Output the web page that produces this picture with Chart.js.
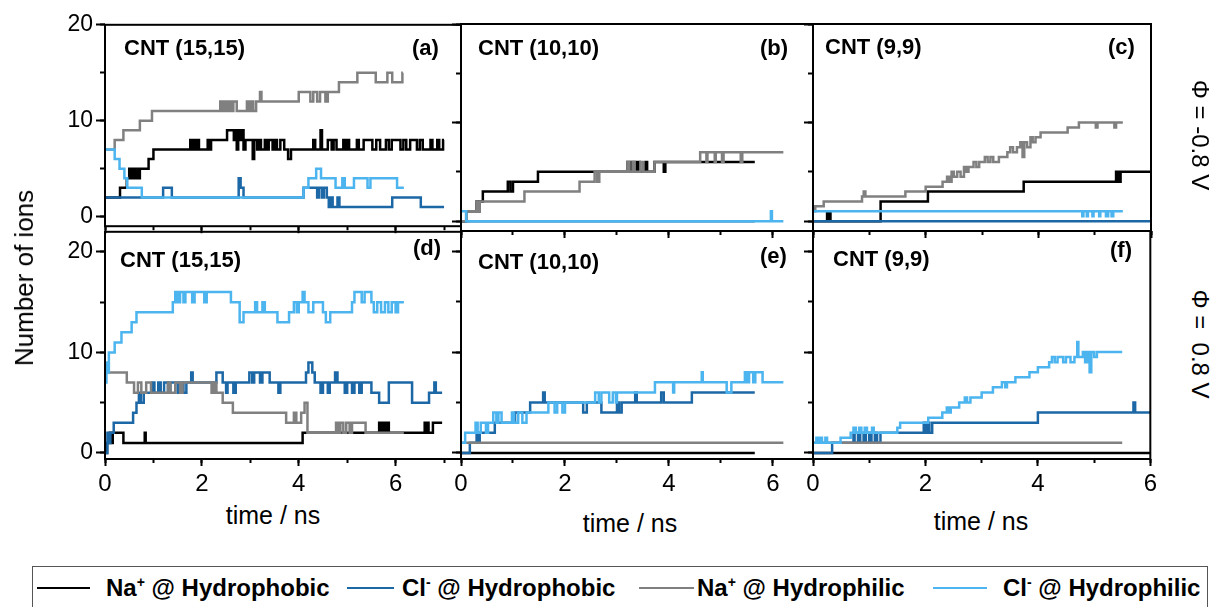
<!DOCTYPE html>
<html>
<head>
<meta charset="utf-8">
<script src="https://cdn.jsdelivr.net/npm/chart.js@4.4.1/dist/chart.umd.min.js"></script>
<style>
  body { margin: 0; background: #fff; }
  #fig { position: relative; width: 1215px; height: 607px; overflow: hidden; background: #fff;
         font-family: "Liberation Sans", Arial, sans-serif; color: #000; }
  #fig canvas { position: absolute; }
  .t { position: absolute; white-space: nowrap; line-height: 1; }
  .tag { font-weight: bold; font-size: 22px; }
  .axt { font-size: 25px; }
  .rot { transform-origin: center center; }
  #legend { position: absolute; left: 32px; top: 566px; width: 1176px; height: 60px;
            border: 1.5px solid #555; box-sizing: border-box; }
  .lg-line { position: absolute; height: 0; border-top: 2.5px solid #000; }
  .lg-txt { position: absolute; font-weight: bold; font-size: 24px; line-height: 1; white-space: nowrap; }
  .lg-txt sup { font-size: 14px; vertical-align: 9px; line-height: 0; }
</style>
</head>
<body>
<div id="fig"></div>
<script>
// ion counts vs time (ns), step data: [time, count]
// panel (a) CNT (15,15), phi = -0.8 V
const naPhobA = [[0,2],[0.31,3],[0.45,4],[0.5,5],[0.53,4],[0.57,5],[0.6,4],[0.63,5],[0.67,4],[0.72,5],[0.9,6],[1.0,7],
  [1.76,8],[1.79,7],[1.82,8],[1.86,7],[1.9,8],[1.94,7],[2.12,8],[2.15,7],[2.19,8],[2.52,9],[2.66,8],[2.69,9],[2.72,7],
  [2.75,9],[2.78,8],[2.82,9],[2.86,7],[2.9,8],[3.05,6],[3.08,8],[3.14,7],[3.18,8],[3.22,7],[3.3,8],[3.34,7],[3.38,8],
  [3.46,7],[3.5,8],[3.55,7],[3.62,8],[3.7,7],[3.78,6],[3.84,7],[4.3,8],[4.34,7],[4.45,9],[4.48,7],[4.6,8],[4.68,7],
  [4.72,8],[4.78,7],[4.92,8],[4.96,7],[5.0,8],[5.04,7],[5.2,8],[5.24,7],[5.34,8],[5.52,7],[5.6,8],[5.68,7],[5.8,8],
  [5.86,7],[5.92,8],[6.1,7],[6.16,8],[6.22,7],[6.3,8],[6.44,7],[6.5,8],[6.56,7],[6.72,8],[6.76,7],[6.86,8],[6.9,7],
  [6.98,8],[7.0,8]];
const clPhobA = [[0,2],[1.2,3],[1.38,2],[2.76,4],[2.8,3],[2.86,2],[4.1,3],[4.38,2],[4.42,3],[4.48,2],[4.52,3],[4.58,2],
  [4.62,1],[4.66,2],[4.7,1],[4.8,2],[4.84,1],[5.93,2],[6.52,1],[7.0,1]];
const naPhilA = [[0,7],[0.2,8],[0.38,9],[0.72,10],[0.97,11],[2.38,12],[2.42,11],[2.46,12],[2.5,11],[2.55,12],[2.6,11],
  [2.65,12],[2.72,11],[2.93,12],[2.97,11],[3.02,12],[3.06,11],[3.12,12],[3.2,13],[3.23,12],[4.0,13],[4.24,12],[4.3,13],
  [4.38,12],[4.44,13],[4.55,12],[4.6,13],[4.83,14],[5.21,15],[5.59,14],[5.83,15],[5.93,14],[6.14,15],[6.15,15]];
const clPhilA = [[0,7],[0.2,6],[0.3,5],[0.4,4],[0.46,3],[0.76,2],[4.1,3],[4.2,4],[4.36,5],[4.46,4],[4.76,3],[4.9,4],
  [4.95,3],[5.14,4],[5.42,3],[5.48,4],[6.03,3],[6.17,3]];

// panel (b) CNT (10,10), phi = -0.8 V
const naPhobB = [[0,0],[0.1,1],[0.3,2],[0.33,1],[0.36,2],[0.42,3],[0.9,4],[0.95,3],[1.0,4],[1.48,5],[3.2,6],[3.26,5],
  [3.3,6],[3.36,5],[3.4,6],[3.44,5],[3.55,6],[3.58,5],[3.72,6],[3.9,5],[3.93,6],[5.65,6]];
const clPhobB = [[0,0],[5.65,0]];
const naPhilB = [[0,0],[0.1,1],[0.3,2],[0.33,1],[0.36,2],[1.22,3],[2.28,4],[2.57,5],[2.62,4],[2.66,5],[3.2,6],[3.24,5],
  [3.3,6],[3.34,5],[3.45,6],[3.5,5],[3.72,6],[4.6,7],[4.72,6],[4.74,7],[4.88,6],[4.9,7],[5.02,6],[5.05,7],[5.38,6],
  [5.41,7],[6.2,7]];
const clPhilB = [[0,1],[0.1,0],[5.96,1],[5.98,0],[6.2,0]];

// panel (c) CNT (9,9), phi = -0.8 V
const naPhobC = [[0,0],[0.25,1],[0.27,0],[0.29,1],[0.31,0],[1.2,2],[2.04,3],[3.74,4],[5.38,5],[5.42,4],[5.46,5],[6.0,5]];
const clPhobC = [[0,0],[6.0,0]];
const naPhilC = [[0,1],[0.04,1.5],[0.19,2],[0.87,2.5],[0.9,3],[0.93,2.5],[1.64,3],[2.0,3.5],[2.3,4],[2.38,4.5],[2.42,4],
  [2.46,5],[2.5,4.5],[2.56,5],[2.62,4.5],[2.68,5.5],[2.72,5],[2.76,5.5],[2.85,6],[2.9,5.5],[2.95,6],[3.05,6.5],[3.1,6],
  [3.15,6.5],[3.2,6],[3.3,6.5],[3.45,7],[3.5,7.5],[3.55,7],[3.62,7.5],[3.68,8],[3.72,6.5],[3.75,8],[3.8,7.5],[3.86,8.5],
  [3.9,8],[3.95,8.5],[4.04,9],[4.52,9.5],[4.72,10],[5.02,9.5],[5.05,10],[5.35,9.5],[5.38,10],[5.5,10]];
const clPhilC = [[0,1],[4.78,0.5],[4.8,1],[4.86,0.5],[4.88,1],[4.96,0.5],[4.98,1],[5.08,0.5],[5.1,1],[5.2,0.5],[5.24,1],
  [5.3,0.5],[5.33,1],[5.5,1]];

// panel (d) CNT (15,15), phi = 0.8 V
const naPhobD = [[0,0],[0.04,1],[0.1,2],[0.12,1],[0.16,2],[0.38,1],[0.82,2],[0.84,1],[4.08,2],[5.66,3],[5.7,2],[5.74,3],
  [5.78,2],[5.82,3],[5.86,2],[6.6,3],[6.63,2],[6.66,3],[6.68,2],[6.77,3],[6.96,3]];
const clPhobD = [[0,0],[0.05,2],[0.08,1],[0.11,2],[0.18,3],[0.58,4],[0.65,5],[0.7,6],[0.74,5],[0.8,6],[0.98,7],[1.02,6],
  [1.1,7],[1.15,6],[1.22,7],[1.3,6],[1.35,7],[1.5,6],[1.55,7],[1.62,6],[1.68,7],[1.78,8],[1.81,7],[2.3,8],[2.43,7],
  [2.5,6],[2.53,7],[2.65,6],[2.7,7],[2.98,8],[3.04,7],[3.08,8],[3.2,7],[3.25,8],[3.4,7],[3.58,6],[3.62,7],[4.15,8],
  [4.2,9],[4.28,8],[4.33,7],[4.45,6],[4.5,7],[4.6,6],[4.64,7],[4.75,8],[4.8,7],[4.95,6],[5.0,7],[5.1,6],[5.15,7],
  [5.25,6],[5.3,7],[5.5,6],[5.66,5],[5.86,7],[6.34,5],[6.69,6],[6.8,7],[6.83,6],[6.96,6]];
const naPhilD = [[0,8],[0.45,7],[0.6,6],[0.68,7],[0.75,6],[0.85,7],[0.95,6],[1.3,7],[1.35,6],[1.45,7],[1.55,6],[1.6,7],
  [2.2,6],[2.25,7],[2.3,6],[2.43,5],[2.64,4],[3.74,3],[3.9,4],[3.95,3],[4.05,4],[4.12,5],[4.18,2],[4.77,3],[4.82,2],
  [4.86,3],[4.92,2],[4.98,3],[5.05,2],[5.1,3],[5.38,2],[6.17,2]];
const clPhilD = [[0,7],[0.03,9],[0.05,8],[0.08,10],[0.2,11],[0.34,12],[0.55,13],[0.65,14],[1.4,15],[1.45,16],[1.5,15],
  [1.55,16],[1.62,15],[1.66,16],[1.8,15],[1.85,16],[2.05,15],[2.1,16],[2.6,15],[2.78,13],[2.86,14],[3.1,15],[3.14,14],
  [3.25,15],[3.3,14],[3.56,13],[3.8,14],[3.9,15],[3.96,14],[4.0,15],[4.08,16],[4.12,15],[4.2,14],[4.3,15],[4.5,14],
  [4.56,13],[4.65,14],[5.1,15],[5.15,16],[5.3,15],[5.36,16],[5.5,15],[5.55,14],[5.62,15],[5.7,14],[5.78,15],[5.85,14],
  [5.92,15],[6.0,14],[6.05,15],[6.17,15]];

// panel (e) CNT (10,10), phi = 0.8 V
const naPhobE = [[0,0],[5.65,0]];
const clPhobE = [[0,0],[0.17,1],[0.3,2],[0.33,1],[0.36,2],[0.65,3],[1.04,4],[1.33,5],[1.58,6],[1.61,5],[2.35,4],[2.42,5],
  [2.7,4],[3.0,5],[3.04,4],[3.09,5],[3.35,6],[3.38,5],[3.85,6],[3.9,5],[4.44,6],[5.65,6]];
const naPhilE = [[0,1],[6.2,1]];
const clPhilE = [[0,1],[0.08,2],[0.28,3],[0.32,2],[0.38,3],[0.48,2],[0.52,3],[0.62,4],[0.68,3],[0.72,4],[0.78,3],[0.98,4],
  [1.02,3],[1.1,4],[1.18,3],[1.26,4],[1.68,5],[1.8,4],[1.85,5],[1.95,4],[2.0,5],[2.58,6],[2.65,5],[2.7,6],[2.85,5],
  [2.92,6],[2.98,5],[3.0,6],[3.73,7],[4.08,6],[4.1,7],[4.63,8],[4.65,7],[5.11,6],[5.2,7],[5.46,8],[5.5,7],[5.54,8],
  [5.62,7],[5.66,8],[5.8,7],[6.2,7]];

// panel (f) CNT (9,9), phi = 0.8 V
const naPhobF = [[0,0],[6.0,0]];
const clPhobF = [[0,0],[0.34,1],[0.72,2],[0.74,1],[0.8,2],[0.84,1],[0.9,2],[0.94,1],[1.0,2],[1.04,1],[1.1,2],[1.14,1],
  [1.2,2],[1.97,3],[2.0,2],[2.04,3],[2.07,2],[2.12,3],[4.0,4],[5.7,5],[5.73,4],[6.0,4]];
const naPhilF = [[0,1],[5.5,1]];
const clPhilF = [[0,1],[0.06,1.5],[0.09,1],[0.13,1.5],[0.16,1],[0.22,1.5],[0.25,1],[0.49,1.5],[0.67,2],[0.72,2.5],
  [0.76,2],[0.82,2.5],[0.86,2],[0.92,2.5],[0.96,2],[1.05,2.5],[1.08,2],[1.5,2.5],[1.55,3],[2.05,3.5],[2.3,4],[2.38,4.5],
  [2.42,4],[2.45,4.5],[2.6,5],[2.7,5.5],[2.74,5],[2.8,5.5],[3.0,6],[3.2,6.5],[3.36,7],[3.42,6.5],[3.45,7],[3.6,7.5],
  [3.85,8],[4.0,8.5],[4.2,9],[4.25,9.5],[4.3,9],[4.35,9.5],[4.45,9],[4.5,9.5],[4.58,9],[4.65,9.5],[4.7,11],[4.72,9.5],
  [4.8,10],[4.84,9],[4.88,10],[4.92,8],[4.95,10],[5.0,9.5],[5.05,10],[5.5,10]];

const seriesNames = ['Na+ @ Hydrophobic', 'Cl- @ Hydrophobic', 'Na+ @ Hydrophilic', 'Cl- @ Hydrophilic'];
const seriesColors = ['#000000', '#1c67a5', '#808080', '#4cb4ee'];
const seriesOrder = [3, 2, 1, 0];   // light blue on top, black at the back

const yLabelTicks = [0, 10, 20];
const xLabelTicks = [0, 2, 4, 6];

const FONT = '"Liberation Sans", Arial, sans-serif';
Chart.defaults.font.family = FONT;
Chart.defaults.color = '#000';

// plot boxes in page pixels: [left, top, right, bottom]
const panels = [
  { box: [105, 24, 461, 231], xMax: 7.35, yMin: -1, yMax: 20, yLab: true,  xLab: false,
    data: [naPhobA, clPhobA, naPhilA, clPhilA], name: 'CNT (15,15)', tag: '(a)', nx: 124, tx: 412, ny: 37, ty: 37 },
  { box: [461, 24, 813, 231], xMax: 6.77, yMin: -1, yMax: 20, yLab: false, xLab: false,
    data: [naPhobB, clPhobB, naPhilB, clPhilB], name: 'CNT (10,10)', tag: '(b)', nx: 478, tx: 760, ny: 37, ty: 37 },
  { box: [813, 24, 1151, 231], xMax: 6, yMin: -1, yMax: 20, yLab: false, xLab: false,
    data: [naPhobC, clPhobC, naPhilC, clPhilC], name: 'CNT (9,9)', tag: '(c)', nx: 825, tx: 1108, ny: 36, ty: 36 },
  { box: [105, 231, 461, 459], xMax: 7.35, yMin: -0.6, yMax: 22, yLab: true, xLab: true,
    data: [naPhobD, clPhobD, naPhilD, clPhilD], name: 'CNT (15,15)', tag: '(d)', nx: 120, tx: 413, ny: 249, ty: 237,
    axX: 273, axY: 503 },
  { box: [461, 231, 813, 459], xMax: 6.77, yMin: -0.6, yMax: 22, yLab: false, xLab: true,
    data: [naPhobE, clPhobE, naPhilE, clPhilE], name: 'CNT (10,10)', tag: '(e)', nx: 478, tx: 760, ny: 251, ty: 245,
    axX: 630, axY: 511 },
  { box: [813, 231, 1151, 459], xMax: 6, yMin: -0.6, yMax: 22, yLab: false, xLab: true,
    data: [naPhobF, clPhobF, naPhilF, clPhilF], name: 'CNT (9,9)', tag: '(f)', nx: 833, tx: 1110, ny: 248, ty: 239,
    axX: 981, axY: 509 }
];

const fig = document.getElementById('fig');

// black box round each plot area
const framePlugin = {
  id: 'frame',
  afterDraw(chart) {
    const { ctx, chartArea: a } = chart;
    ctx.save();
    ctx.strokeStyle = '#000';
    ctx.lineWidth = 2;
    ctx.strokeRect(a.left, a.top, a.right - a.left, a.bottom - a.top);
    ctx.restore();
  }
};

function addText(html, cls, left, top, extra) {
  const d = document.createElement('div');
  d.className = 't ' + cls;
  d.innerHTML = html;
  d.style.left = left + 'px';
  d.style.top = top + 'px';
  if (extra) Object.assign(d.style, extra);
  fig.appendChild(d);
  return d;
}

function tickGrid(len) {
  return { drawOnChartArea: false, drawTicks: true, tickLength: len, tickWidth: 2, tickColor: '#000' };
}

function makePanel(p) {
  const L = p.yLab ? 105 : 12;
  const B = p.xLab ? 40 : 12;
  const PT = 16, PR = 10;
  const [x0, y0, x1, y1] = p.box;
  const w = x1 - x0 + L + PR, h = y1 - y0 + B + PT;
  const cv = document.createElement('canvas');
  cv.width = w; cv.height = h;
  cv.style.left = (x0 - L) + 'px';
  cv.style.top = (y0 - PT) + 'px';
  cv.style.width = w + 'px';
  cv.style.height = h + 'px';
  fig.appendChild(cv);

  new Chart(cv, {
    type: 'line',
    data: {
      datasets: p.data.map((s, i) => ({
        label: seriesNames[i],
        data: s.map(([t, n]) => ({ x: t, y: n })),
        borderColor: seriesColors[i],
        borderWidth: 2.5,
        pointRadius: 0,
        stepped: true,
        fill: false,
        order: seriesOrder[i]
      }))
    },
    options: {
      responsive: false,
      animation: false,
      devicePixelRatio: 1,
      layout: { padding: { top: PT, right: PR, left: 0, bottom: 0 } },
      plugins: { legend: { display: false }, tooltip: { enabled: false } },
      scales: {
        // major ticks with labels
        x: {
          type: 'linear', min: 0, max: p.xMax, weight: 1,
          afterFit: s => { s.height = B; },
          grid: tickGrid(7),
          border: { display: false },
          ticks: {
            display: p.xLab, stepSize: 2, includeBounds: false, autoSkip: false, maxRotation: 0,
            padding: 4, font: { size: 24 },
            callback: v => xLabelTicks.includes(v) ? String(v) : ''
          }
        },
        // minor ticks, no labels
        xm: {
          type: 'linear', position: 'bottom', min: 0, max: p.xMax, weight: 0,
          afterFit: s => { s.height = 0; },
          grid: tickGrid(4),
          border: { display: false },
          ticks: { display: false, stepSize: 1, includeBounds: false, autoSkip: false }
        },
        y: {
          type: 'linear', min: p.yMin, max: p.yMax, weight: 1,
          afterFit: s => { s.width = L; },
          grid: tickGrid(9),
          border: { display: false },
          ticks: {
            display: p.yLab, stepSize: 10, includeBounds: false, autoSkip: false,
            padding: 3, font: { size: 23 },
            callback: v => yLabelTicks.includes(v) ? String(v) : ''
          }
        },
        ym: {
          type: 'linear', position: 'left', min: p.yMin, max: p.yMax, weight: 0,
          afterFit: s => { s.width = 0; },
          grid: tickGrid(5),
          border: { display: false },
          ticks: { display: false, stepSize: 5, includeBounds: false, autoSkip: false }
        }
      }
    },
    plugins: [framePlugin]
  });

  addText(p.name, 'tag', p.nx, p.ny);
  addText(p.tag, 'tag', p.tx, p.ty);
  if (p.xLab) {
    const d = addText('time / ns', 'axt', p.axX, p.axY);
    d.style.transform = 'translateX(-50%)';
  }
}

panels.forEach(makePanel);

// axis title and potential labels
addText('Number of ions', 'axt rot', 24, 278, { transform: 'translate(-50%, -50%) rotate(-90deg)', fontSize: '26px' });
addText('\u03A6 = -0.8 V', 'axt rot', 1200, 135, { transform: 'translate(-50%, -50%) rotate(90deg)', fontSize: '24px' });
addText('\u03A6 =&nbsp; 0.8 V', 'axt rot', 1200, 344, { transform: 'translate(-50%, -50%) rotate(90deg)', fontSize: '24px' });

// legend row
const legend = document.createElement('div');
legend.id = 'legend';
fig.appendChild(legend);
const legendItems = [
  { color: seriesColors[0], lx: 4, lw: 53, tx: 73, html: 'Na<sup>+</sup> @ Hydrophobic' },
  { color: seriesColors[1], lx: 314, lw: 47, tx: 369, html: 'Cl<sup>-</sup> @ Hydrophobic' },
  { color: seriesColors[2], lx: 606, lw: 55, tx: 664, html: 'Na<sup>+</sup> @ Hydrophilic' },
  { color: seriesColors[3], lx: 900, lw: 54, tx: 970, html: 'Cl<sup>-</sup> @ Hydrophilic' }
];
legendItems.forEach(it => {
  const ln = document.createElement('div');
  ln.className = 'lg-line';
  ln.style.left = it.lx + 'px';
  ln.style.width = it.lw + 'px';
  ln.style.top = '20px';
  ln.style.borderTopColor = it.color;
  legend.appendChild(ln);
  const tx = document.createElement('div');
  tx.className = 'lg-txt';
  tx.style.left = it.tx + 'px';
  tx.style.top = '9px';
  tx.innerHTML = it.html;
  legend.appendChild(tx);
});
</script>
</body>
</html>
